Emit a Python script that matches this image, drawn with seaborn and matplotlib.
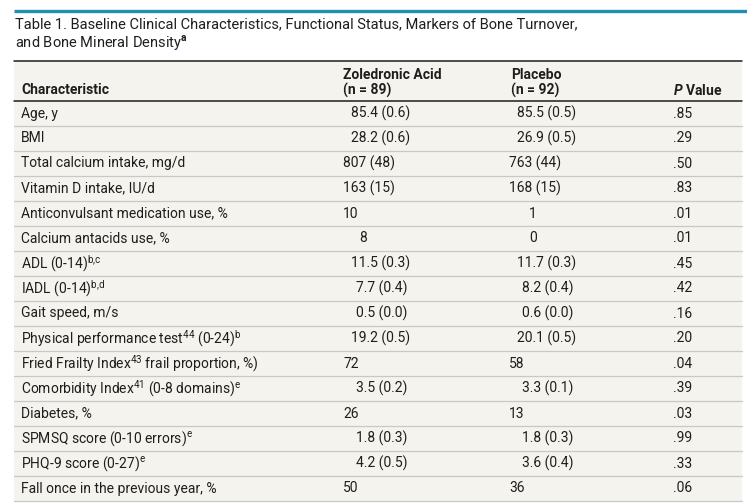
import numpy as np
import pandas as pd
import matplotlib
matplotlib.use("Agg")
import matplotlib.pyplot as plt
from matplotlib.colors import ListedColormap
import seaborn as sns

characteristics = [
    "Age, y",
    "BMI",
    "Total calcium intake, mg/d",
    "Vitamin D intake, IU/d",
    "Anticonvulsant medication use, %",
    "Calcium antacids use, %",
    r"ADL (0-14)$^{\mathrm{b{,}c}}$",
    r"IADL (0-14)$^{\mathrm{b{,}d}}$",
    "Gait speed, m/s",
    r"Physical performance test$^{\mathrm{44}}$ (0-24)$^{\mathrm{b}}$",
    r"Fried Frailty Index$^{\mathrm{43}}$ frail proportion, %)",
    r"Comorbidity Index$^{\mathrm{41}}$ (0-8 domains)$^{\mathrm{e}}$",
    "Diabetes, %",
    r"SPMSQ score (0-10 errors)$^{\mathrm{e}}$",
    r"PHQ-9 score (0-27)$^{\mathrm{e}}$",
    "Fall once in the previous year, %",
]
zoledronic = ["85.4 (0.6)", "28.2 (0.6)", "807 (48)", "163 (15)", "10", "8",
              "11.5 (0.3)", "7.7 (0.4)", "0.5 (0.0)", "19.2 (0.5)", "72",
              "3.5 (0.2)", "26", "1.8 (0.3)", "4.2 (0.5)", "50"]
placebo = ["85.5 (0.5)", "26.9 (0.5)", "763 (44)", "168 (15)", "1", "0",
           "11.7 (0.3)", "8.2 (0.4)", "0.6 (0.0)", "20.1 (0.5)", "58",
           "3.3 (0.1)", "13", "1.8 (0.3)", "3.6 (0.4)", "36"]
p_values = [".85", ".29", ".50", ".83", ".01", ".01", ".45", ".42", ".16",
            ".20", ".04", ".39", ".03", ".99", ".33", ".06"]

title_1 = "Table 1. Baseline Clinical Characteristics, Functional Status, Markers of Bone Turnover,"
title_2 = r"and Bone Mineral Density$^{\mathbf{a}}$"

df = pd.DataFrame({"char": characteristics, "zol": zoledronic,
                   "pla": placebo, "p": p_values})

sns.set_theme(style="white")
FONT = "Roboto"
plt.rcParams["font.family"] = [FONT, "DejaVu Sans"]
plt.rcParams["mathtext.fontset"] = "custom"
plt.rcParams["mathtext.rm"] = FONT
plt.rcParams["mathtext.bf"] = FONT + ":bold"
plt.rcParams["mathtext.bfit"] = FONT + ":italic:bold"

BEIGE = "#f5f3ed"
TEAL = "#1e90ad"
INK = "#1e1e1e"
GRID = "#c8c8c8"
W, H = 747, 503
ROW_H = 25
BODY_TOP = 101


def indent(s, wide_step):
    # rough decimal alignment like the typeset original
    head = s.split()[0]
    if "." in head:
        return 8 if len(head.split(".")[0]) == 2 else 13
    if "(" in s or len(head) > 1:
        return 0
    return wide_step


fig = plt.figure(figsize=(W / 100, H / 100), dpi=100)

# body background drawn as a one-column heatmap
body = fig.add_axes([14 / W, 1 - (BODY_TOP + ROW_H * len(df)) / H,
                     728 / W, ROW_H * len(df) / H])
sns.heatmap(np.zeros((len(df), 1)), cmap=ListedColormap([BEIGE]), cbar=False,
            xticklabels=False, yticklabels=False, ax=body)
body.set_axis_off()

ax = fig.add_axes([0, 0, 1, 1])
ax.patch.set_alpha(0)
ax.set_xlim(0, W)
ax.set_ylim(H, 0)
ax.set_axis_off()

# header background and rules
ax.add_patch(plt.Rectangle((14, 61), 728, BODY_TOP - 61, color=BEIGE, lw=0))
ax.plot([14, W], [10.8, 10.8], color=TEAL, lw=2.4, solid_capstyle="butt")
ax.plot([14, 742], [61, 61], color=INK, lw=1.1)
ax.plot([14, 742], [BODY_TOP, BODY_TOP], color=INK, lw=1.1)
for i in range(1, len(df) + 1):
    y = BODY_TOP + i * ROW_H
    ax.plot([14, 742], [y, y], color=GRID, lw=0.9)

ax.text(15, 24, title_1, fontsize=10.5, color=INK, va="center")
ax.text(15, 43, title_2, fontsize=10.5, color=INK, va="center")

hdr = dict(fontsize=10, color=INK, va="center", fontweight="bold")
ax.text(21, 90, "Characteristic", **hdr)
ax.text(343, 75, "Zoledronic Acid", **hdr)
ax.text(343, 90, "(n = 89)", **hdr)
ax.text(511, 75, "Placebo", **hdr)
ax.text(511, 90, "(n = 92)", **hdr)
ax.text(722, 90, r"$\mathbfit{P}$ Value", ha="right", **hdr)

cell = dict(fontsize=10, color=INK, va="center")
for i, row in df.iterrows():
    y = BODY_TOP + ROW_H * (i + 0.5)
    ax.text(21, y, row["char"], **cell)
    ax.text(343 + indent(row["zol"], 16), y, row["zol"], **cell)
    ax.text(509 + indent(row["pla"], 20), y, row["pla"], **cell)
    ax.text(673, y, row["p"], **cell)

fig.savefig("out.png", dpi=100)
